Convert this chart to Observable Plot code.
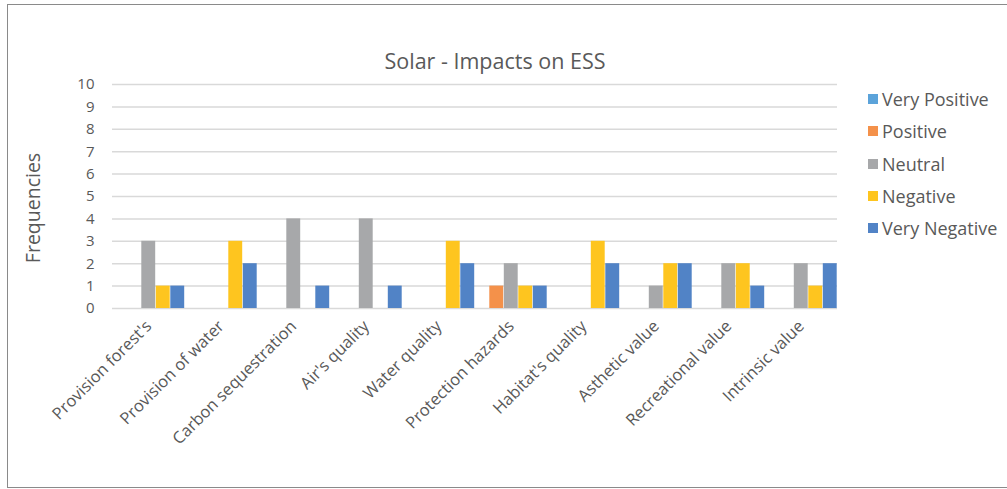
<!DOCTYPE html>
<html><head><meta charset="utf-8">
<script src="https://cdn.jsdelivr.net/npm/d3@7"></script>
<script src="https://cdn.jsdelivr.net/npm/@observablehq/plot@0.6"></script>
<style>
body{margin:0;background:#fff;font-family:"Open Sans",sans-serif;}
#wrap{position:relative;width:1007px;height:489px;overflow:hidden;background:#fff}
#frame{position:absolute;left:7px;top:4px;width:1020px;height:484px;border:1.5px solid #8a8a8a;box-sizing:border-box}
#title{position:absolute;top:46px;left:0;width:990px;text-align:center;font-size:21.5px;color:#595959}
#ylab{position:absolute;left:32px;top:208px;transform:translate(-50%,-50%) rotate(-90deg);font-size:19.5px;color:#595959;white-space:nowrap}
#legend{position:absolute;left:868px;top:83px;font-size:18px;color:#595959}
#legend .row{height:32.3px;display:flex;align-items:center;white-space:nowrap}
#legend .sw{width:10px;height:10px;margin-right:4px;display:inline-block}
#chart{position:absolute;left:0;top:0}
</style>
</head><body>
<div id="wrap">
  <div id="frame"></div>
  <div id="chart"></div>
  <div id="title">Solar - Impacts on ESS</div>
  <div id="ylab">Frequencies</div>
  <div id="legend"></div>
</div>
<script>
const categories = ["Provision forest's","Provision of water","Carbon sequestration","Air's quality","Water quality","Protection hazards","Habitat's quality","Asthetic value","Recreational value","Intrinsic value"];
const series = ["Very Positive","Positive","Neutral","Negative","Very Negative"];
const colors = ["#5BA3DA","#F4914A","#A7A8AA","#FEC51F","#5183C6"];
const veryPositive = [0,0,0,0,0,0,0,0,0,0];
const positive     = [0,0,0,0,0,1,0,0,0,0];
const neutral      = [3,0,4,4,0,2,0,1,2,2];
const negative     = [1,3,0,0,3,1,3,2,2,1];
const veryNegative = [1,2,1,1,2,1,2,2,1,2];
const yTicks = [0,1,2,3,4,5,6,7,8,9,10];

const seriesValues = [veryPositive, positive, neutral, negative, veryNegative];
const keys = [];
const rows = [];
categories.forEach((c, i) => {
  series.forEach((s, j) => {
    const key = i + "|" + j;
    keys.push(key);
    rows.push({key, category: c, series: s, value: seriesValues[j][i]});
  });
});
const centerKeys = keys.filter(k => k.endsWith("|2"));

const chart = Plot.plot({
  width: 1007,
  height: 489,
  marginLeft: 112,
  marginRight: 170,
  marginTop: 84,
  marginBottom: 181,
  style: {fontFamily: "'Open Sans', sans-serif", color: "#595959", background: "transparent"},
  x: {domain: keys, padding: 0, round: false, axis: null, label: null},
  y: {domain: [0, 10], axis: null, label: null},
  color: {domain: series, range: colors},
  marks: [
    Plot.ruleY(yTicks, {stroke: "#d9d9d9", strokeWidth: 1.5}),
    Plot.barY(rows.filter(d => d.value > 0), {x: "key", y: "value", fill: "series", insetLeft: 0.3, insetRight: 0.3}),
    Plot.axisY({ticks: yTicks, tickSize: 0, tickPadding: 18, fontSize: 15, fill: "#595959", label: null}),
    Plot.axisX({ticks: centerKeys, tickFormat: k => categories[+k.split("|")[0]], tickRotate: -45, tickSize: 0, tickPadding: 15, fontSize: 16.5, fill: "#595959", label: null})
  ]
});
document.getElementById("chart").appendChild(chart);

const legend = document.getElementById("legend");
series.forEach((s, j) => {
  const row = document.createElement("div");
  row.className = "row";
  row.innerHTML = `<span class="sw" style="background:${colors[j]}"></span><span>${s}</span>`;
  legend.appendChild(row);
});
</script>
</body></html>
